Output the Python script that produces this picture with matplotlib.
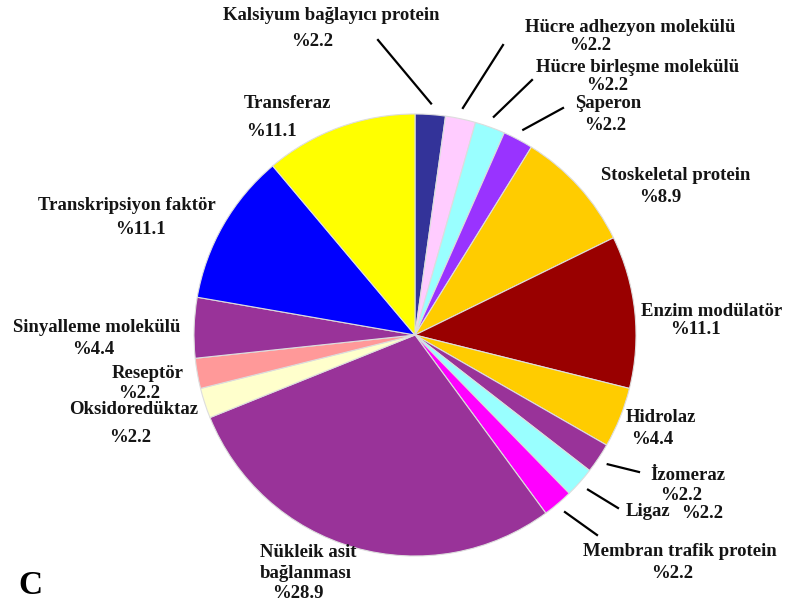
import numpy as np
import matplotlib.pyplot as plt

# protein classes, clockwise from 12 o'clock
classes = ['Kalsiyum bağlayıcı protein', 'Hücre adhezyon molekülü', 'Hücre birleşme molekülü',
           'Şaperon', 'Stoskeletal protein', 'Enzim modülatör', 'Hidrolaz', 'İzomeraz', 'Ligaz',
           'Membran trafik protein', 'Nükleik asit\nbağlanması', 'Oksidoredüktaz', 'Reseptör',
           'Sinyalleme molekülü', 'Transkripsiyon faktör', 'Transferaz']
percent = [2.2, 2.2, 2.2, 2.2, 8.9, 11.1, 4.4, 2.2, 2.2, 2.2, 28.9, 2.2, 2.2, 4.4, 11.1, 11.1]
colors = ['#333399', '#FFCCFF', '#99FFFF', '#9933FF', '#FFCC00', '#990000', '#FFCC00', '#993399',
          '#99FFFF', '#FF00FF', '#993399', '#FFFFCC', '#FF9999', '#993399', '#0000FF', '#FFFF00']

W, H = 789, 607
fig = plt.figure(figsize=(W / 100, H / 100), dpi=100)
ax = fig.add_axes([0, 0, 1, 1])

cx, cy, R = 415, H - 335, 221
ax.pie(percent, colors=colors, startangle=90, counterclock=False, center=(cx, cy), radius=R,
       wedgeprops=dict(edgecolor='#dddddd', linewidth=0.8), frame=True)
ax.set_xlim(0, W)
ax.set_ylim(0, H)
ax.axis('off')

font = dict(family='Liberation Serif', weight='bold', size=13.5, color='#151515')

# label name position, value position (pixels from top-left)
label_pos = [
    ((331, 15), (312, 41)),
    ((630, 27), (590, 46)),
    ((638, 68), (607, 85)),
    ((608, 103), (605, 125)),
    ((676, 175), (660, 197)),
    ((712, 312), (695, 330)),
    ((661, 418), (652, 440)),
    ((688, 475), (681, 495)),
    ((648, 511), (702, 513)),
    ((680, 552), (672, 574)),
    ((308, 563), (298, 593)),
    ((134, 409), (130, 437)),
    ((148, 374), (139, 393)),
    ((97, 327), (93, 349)),
    ((127, 206), (140, 229)),
    ((287, 104), (271, 131)),
]
for name, pct, (p_name, p_pct) in zip(classes, percent, label_pos):
    ax.text(p_name[0], H - p_name[1], name, ha='center', va='center', linespacing=1.25,
            multialignment='left', **font)
    ax.text(p_pct[0], H - p_pct[1], f'%{pct}', ha='center', va='center', **font)

# leader lines for the thin slices
leader_end = {0: (378, 40), 1: (503, 45), 2: (532, 80), 3: (563, 108),
              7: (639, 472), 8: (618, 508), 9: (597, 535)}
cum = np.cumsum([0] + percent)
total = cum[-1]
for i, (ex, ey) in leader_end.items():
    mid = np.deg2rad(90 - 360 * (cum[i] + cum[i + 1]) / 2 / total)
    x0 = cx + 1.05 * R * np.cos(mid)
    y0 = cy + 1.05 * R * np.sin(mid)
    ax.plot([x0, ex], [y0, H - ey], color='black', lw=1.6)

ax.text(30, H - 585, 'C', ha='center', va='center', family='Liberation Serif', weight='bold',
        size=24, color='black')

fig.savefig('out.png', dpi=100)
